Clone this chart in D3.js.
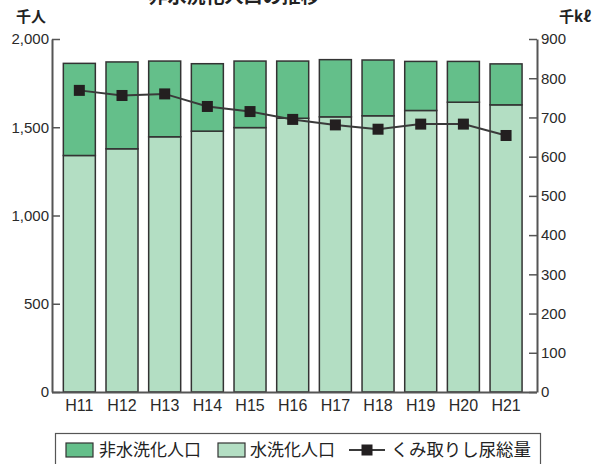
<!DOCTYPE html>
<html>
<head>
<meta charset="utf-8">
<script src="https://cdn.jsdelivr.net/npm/d3@7"></script>
<style>
body { margin: 0; background: #fff; }
svg { display: block; }
.tick text { font-family: "Liberation Sans", Arial, sans-serif; font-size: 15px; fill: #2a2a2a; }
.x-axis .tick text { font-size: 16px; }
.jp { font-family: "Noto Sans CJK JP", sans-serif; fill: #222; }
</style>
</head>
<body>
<div id="chart"></div>
<script>
// data
var years = ["H11", "H12", "H13", "H14", "H15", "H16", "H17", "H18", "H19", "H20", "H21"];
var sewered = [1340, 1378, 1446, 1478, 1498, 1551, 1559, 1565, 1595, 1642, 1627];     // 水洗化人口 (千人)
var unsewered = [522, 492, 429, 382, 377, 324, 324, 316, 278, 231, 232];              // 非水洗化人口 (千人)
var nightSoil = [769, 756, 760, 728, 715, 695, 681, 670, 683, 683, 654];              // くみ取りし尿総量 (千kℓ)
var leftTicks = [0, 500, 1000, 1500, 2000];
var rightTicks = [0, 100, 200, 300, 400, 500, 600, 700, 800, 900];

var W = 599, H = 464;
var plotLeft = 52, plotRight = 537, plotTop = 39, plotBottom = 392;

var svg = d3.select("#chart").append("svg")
    .attr("width", W)
    .attr("height", H);

var x = d3.scaleBand().domain(years).range([58, 527.4]).paddingInner(0.25).paddingOuter(0.125);
var yL = d3.scaleLinear().domain([0, 2000]).range([plotBottom, plotTop]);
var yR = d3.scaleLinear().domain([0, 900]).range([plotBottom, plotTop]);

// title, clipped at the top like the source
svg.append("text")
    .attr("class", "jp")
    .attr("x", 234)
    .attr("y", 3)
    .attr("text-anchor", "middle")
    .style("font-size", "19px")
    .style("font-weight", "bold")
    .text("非水洗化人口の推移");

// bars
var stack = years.map(function (d, i) { return { year: d, low: sewered[i], high: unsewered[i] }; });

svg.selectAll(".bar-low")
    .data(stack)
    .enter().append("rect")
    .attr("class", "bar-low")
    .attr("x", function (d) { return x(d.year); })
    .attr("width", x.bandwidth())
    .attr("y", function (d) { return yL(d.low); })
    .attr("height", function (d) { return yL(0) - yL(d.low); })
    .attr("fill", "#b3dec3")
    .attr("stroke", "#333")
    .attr("stroke-width", 1.5);

svg.selectAll(".bar-high")
    .data(stack)
    .enter().append("rect")
    .attr("class", "bar-high")
    .attr("x", function (d) { return x(d.year); })
    .attr("width", x.bandwidth())
    .attr("y", function (d) { return yL(d.low + d.high); })
    .attr("height", function (d) { return yL(d.low) - yL(d.low + d.high); })
    .attr("fill", "#64bf8a")
    .attr("stroke", "#333")
    .attr("stroke-width", 1.5);

// line
var line = d3.line()
    .x(function (d, i) { return x(years[i]) + x.bandwidth() / 2; })
    .y(function (d) { return yR(d); });

svg.append("path")
    .datum(nightSoil)
    .attr("d", line)
    .attr("fill", "none")
    .attr("stroke", "#3a3a3a")
    .attr("stroke-width", 2);

svg.selectAll(".marker")
    .data(nightSoil)
    .enter().append("rect")
    .attr("class", "marker")
    .attr("x", function (d, i) { return x(years[i]) + x.bandwidth() / 2 - 5.5; })
    .attr("y", function (d) { return yR(d) - 5.5; })
    .attr("width", 11)
    .attr("height", 11)
    .attr("fill", "#231f20");

// axes
var leftAxis = svg.append("g")
    .attr("transform", "translate(" + plotLeft + ",0)")
    .call(d3.axisLeft(yL).tickValues(leftTicks).tickFormat(d3.format(",")).tickSizeInner(-8).tickSizeOuter(0).tickPadding(3));

var rightAxis = svg.append("g")
    .attr("transform", "translate(" + plotRight + ",0)")
    .call(d3.axisRight(yR).tickValues(rightTicks).tickSizeInner(-8).tickSizeOuter(0).tickPadding(4));

var bottomAxis = svg.append("g")
    .attr("class", "x-axis")
    .attr("transform", "translate(0," + plotBottom + ")")
    .call(d3.axisBottom(x).tickSize(0).tickPadding(8));
bottomAxis.select(".domain").attr("d", "M" + plotLeft + ",0.5H" + plotRight);

[leftAxis, rightAxis, bottomAxis].forEach(function (g) {
    g.select(".domain").attr("stroke", "#555").attr("stroke-width", 2);
    g.selectAll(".tick line").attr("stroke", "#555").attr("stroke-width", 1.5);
});

// unit labels
svg.append("text").attr("class", "jp")
    .attr("x", 31).attr("y", 22)
    .attr("text-anchor", "middle")
    .style("font-size", "15px").style("font-weight", "bold")
    .text("千人");
svg.append("text").attr("class", "jp")
    .attr("x", 575).attr("y", 22)
    .attr("text-anchor", "middle")
    .style("font-size", "15px").style("font-weight", "bold")
    .text("千kℓ");

// legend
var legend = svg.append("g");
legend.append("rect")
    .attr("x", 55.5).attr("y", 433.5)
    .attr("width", 485).attr("height", 40)
    .attr("fill", "#fff").attr("stroke", "#555").attr("stroke-width", 1.2);

legend.append("rect").attr("x", 66).attr("y", 443).attr("width", 27).attr("height", 14)
    .attr("fill", "#64bf8a").attr("stroke", "#333").attr("stroke-width", 1.2);
legend.append("text").attr("class", "jp").attr("x", 99).attr("y", 456)
    .style("font-size", "17px").text("非水洗化人口");

legend.append("rect").attr("x", 218).attr("y", 443).attr("width", 27).attr("height", 14)
    .attr("fill", "#b3dec3").attr("stroke", "#333").attr("stroke-width", 1.2);
legend.append("text").attr("class", "jp").attr("x", 250).attr("y", 456)
    .style("font-size", "17px").text("水洗化人口");

legend.append("line").attr("x1", 349).attr("x2", 385).attr("y1", 450).attr("y2", 450)
    .attr("stroke", "#3a3a3a").attr("stroke-width", 2);
legend.append("rect").attr("x", 361.5).attr("y", 444.5).attr("width", 11).attr("height", 11)
    .attr("fill", "#231f20");
legend.append("text").attr("class", "jp").attr("x", 391).attr("y", 456)
    .style("font-size", "17.4px").text("くみ取りし尿総量");
</script>
</body>
</html>
